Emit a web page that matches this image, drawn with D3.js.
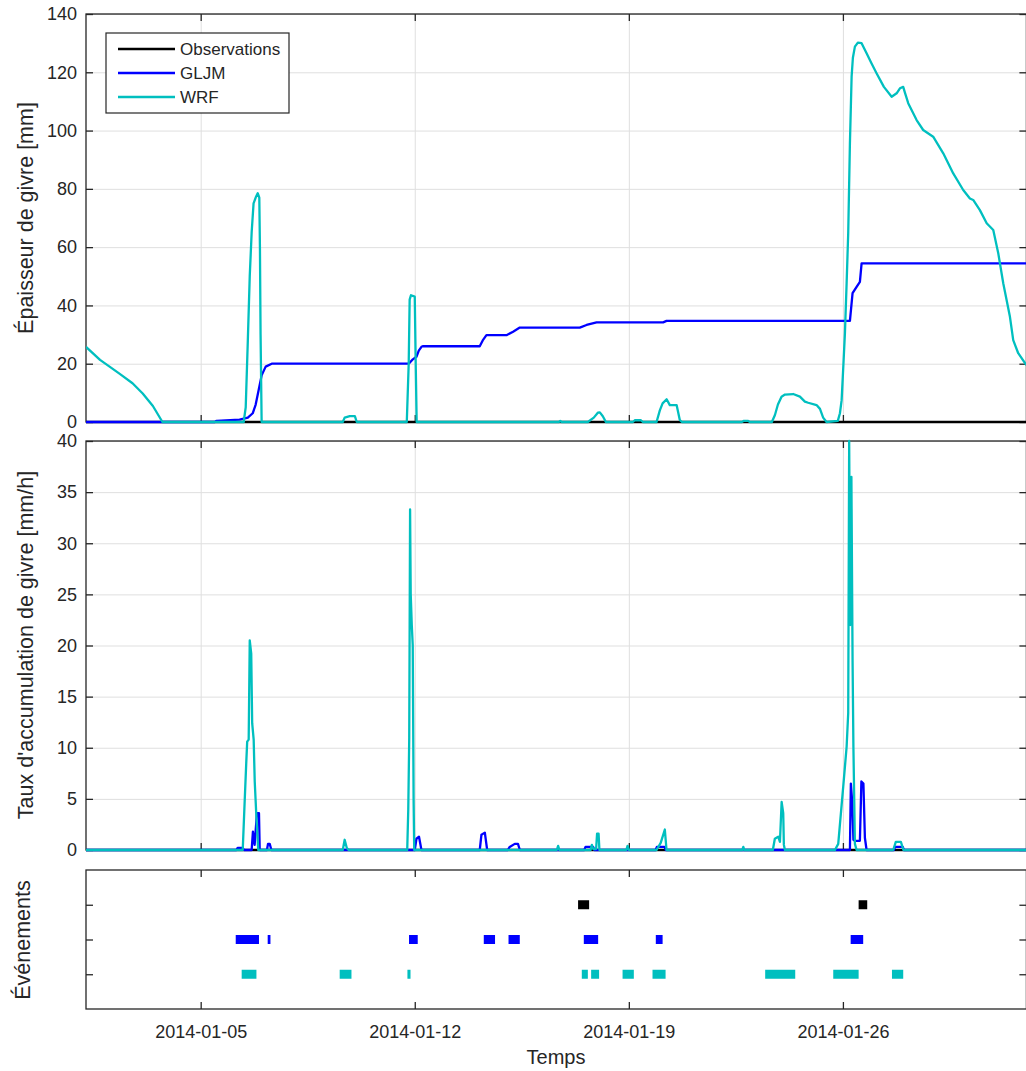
<!DOCTYPE html>
<html>
<head>
<meta charset="utf-8">
<script src="https://cdn.jsdelivr.net/npm/d3@7"></script>
<style>
  body { margin: 0; background: #fff; }
  svg { display: block; }
  text { font-family: "Liberation Sans", Arial, Helvetica, sans-serif; fill: #262626; }
</style>
</head>
<body>
<svg id="chart" width="1026" height="1071"></svg>
<script>
// ---- Time axis ----
const timeDomain = ["2014-01-01 06:00", "2014-02-01 00:00"];
const dateTicks = ["2014-01-05 00:00", "2014-01-12 00:00", "2014-01-19 00:00", "2014-01-26 00:00"];

// ---- Rime thickness [mm] ----
const obsThickness = [["2014-01-01 06:00", 0], ["2014-02-01 00:00", 0]];
const gljmThickness = [
  ["2014-01-01 06:00", 0], ["2014-01-05 11:00", 0], ["2014-01-05 12:30", 0.4],
  ["2014-01-06 06:30", 0.8], ["2014-01-06 13:00", 1.5], ["2014-01-06 16:50", 3],
  ["2014-01-06 19:10", 6], ["2014-01-06 21:30", 11], ["2014-01-06 23:50", 16],
  ["2014-01-07 03:00", 19], ["2014-01-07 07:45", 20], ["2014-01-11 18:30", 20],
  ["2014-01-11 20:00", 20.3], ["2014-01-11 22:30", 21.5], ["2014-01-12 01:20", 22.4],
  ["2014-01-12 03:10", 24.5], ["2014-01-12 05:15", 25.8], ["2014-01-12 06:15", 26],
  ["2014-01-14 03:00", 26], ["2014-01-14 05:20", 28], ["2014-01-14 08:15", 29.8],
  ["2014-01-15 00:00", 29.8], ["2014-01-15 05:10", 31], ["2014-01-15 10:25", 32.4],
  ["2014-01-17 09:30", 32.4], ["2014-01-17 14:50", 33.3], ["2014-01-17 22:40", 34.2],
  ["2014-01-20 02:55", 34.2], ["2014-01-20 05:35", 34.7], ["2014-01-26 05:30", 34.7],
  ["2014-01-26 06:40", 40], ["2014-01-26 07:35", 44.2], ["2014-01-26 10:45", 46.4],
  ["2014-01-26 13:20", 48.1], ["2014-01-26 14:40", 54.4], ["2014-02-01 00:00", 54.4]
];
const wrfThickness = [
  ["2014-01-01 06:00", 25.8], ["2014-01-01 17:00", 21.3], ["2014-01-02 00:30", 19.0],
  ["2014-01-02 08:30", 16.5], ["2014-01-02 18:30", 13.3], ["2014-01-03 02:30", 9.8],
  ["2014-01-03 10:30", 5.5], ["2014-01-03 18:00", 0], ["2014-01-06 09:45", 0],
  ["2014-01-06 11:20", 5], ["2014-01-06 13:00", 28], ["2014-01-06 14:30", 50],
  ["2014-01-06 16:00", 65], ["2014-01-06 17:30", 75], ["2014-01-06 19:10", 77],
  ["2014-01-06 20:45", 78.5], ["2014-01-06 22:00", 77], ["2014-01-06 22:30", 60],
  ["2014-01-06 23:00", 30], ["2014-01-06 23:50", 0], ["2014-01-09 15:30", 0],
  ["2014-01-09 17:00", 1.5], ["2014-01-09 21:00", 2], ["2014-01-10 01:00", 2],
  ["2014-01-10 02:30", 0], ["2014-01-11 17:45", 0], ["2014-01-11 19:15", 20],
  ["2014-01-11 20:00", 42], ["2014-01-11 21:00", 43.5], ["2014-01-12 00:00", 43],
  ["2014-01-12 00:45", 20], ["2014-01-12 01:30", 0], ["2014-01-16 17:00", 0],
  ["2014-01-16 18:10", 0.4], ["2014-01-16 19:20", 0], ["2014-01-17 15:50", 0],
  ["2014-01-17 20:30", 1.5], ["2014-01-17 23:40", 3.2], ["2014-01-18 01:15", 3.3],
  ["2014-01-18 03:35", 2], ["2014-01-18 06:00", 0], ["2014-01-19 03:10", 0],
  ["2014-01-19 04:40", 0.6], ["2014-01-19 09:30", 0.6], ["2014-01-19 11:00", 0],
  ["2014-01-19 21:45", 0], ["2014-01-20 00:20", 4], ["2014-01-20 02:30", 6.4],
  ["2014-01-20 05:40", 7.8], ["2014-01-20 08:10", 5.8], ["2014-01-20 13:30", 5.8],
  ["2014-01-20 16:00", 0.7], ["2014-01-20 17:40", 0], ["2014-01-22 16:40", 0],
  ["2014-01-22 18:20", 0.4], ["2014-01-22 21:20", 0.4], ["2014-01-22 23:00", 0],
  ["2014-01-23 16:15", 0], ["2014-01-23 18:40", 2.4], ["2014-01-23 21:00", 6],
  ["2014-01-23 23:50", 8.7], ["2014-01-24 02:30", 9.4], ["2014-01-24 09:00", 9.6],
  ["2014-01-24 14:15", 8.7], ["2014-01-24 18:10", 7], ["2014-01-24 20:45", 6.6],
  ["2014-01-25 03:20", 5.8], ["2014-01-25 06:00", 4.5], ["2014-01-25 08:30", 1.5],
  ["2014-01-25 11:10", 0], ["2014-01-25 20:00", 0.4], ["2014-01-25 21:40", 3],
  ["2014-01-25 23:00", 7.5], ["2014-01-26 00:25", 20], ["2014-01-26 01:35", 30.5],
  ["2014-01-26 02:55", 47.6], ["2014-01-26 04:10", 64.8], ["2014-01-26 05:30", 95.6],
  ["2014-01-26 06:50", 118.5], ["2014-01-26 07:50", 125], ["2014-01-26 09:25", 128.8],
  ["2014-01-26 11:45", 130.2], ["2014-01-26 14:40", 130], ["2014-01-26 18:35", 126.5],
  ["2014-01-26 22:30", 123], ["2014-01-27 02:30", 119.6], ["2014-01-27 08:10", 115],
  ["2014-01-27 14:15", 111.6], ["2014-01-27 18:10", 112.8], ["2014-01-27 20:45", 114.5],
  ["2014-01-27 23:20", 115], ["2014-01-28 00:40", 113], ["2014-01-28 03:15", 109.4],
  ["2014-01-28 09:50", 103.6], ["2014-01-28 15:00", 100.2], ["2014-01-28 22:50", 97.9],
  ["2014-01-29 06:45", 92.2], ["2014-01-29 14:35", 85.3], ["2014-01-29 22:25", 79.6],
  ["2014-01-30 03:40", 76.7], ["2014-01-30 06:15", 76.2], ["2014-01-30 11:30", 72.7],
  ["2014-01-30 16:50", 68.2], ["2014-01-30 22:00", 65.9], ["2014-01-31 01:55", 57.9],
  ["2014-01-31 05:50", 47.6], ["2014-01-31 11:05", 36.1], ["2014-01-31 13:40", 28.1],
  ["2014-01-31 17:35", 23.6], ["2014-02-01 00:00", 19.5]
];

// ---- Rime accretion rate [mm/h] ----
const obsRate = [["2014-01-01 06:00", 0], ["2014-02-01 00:00", 0]];
const gljmRate = [
  ["2014-01-01 06:00", 0], ["2014-01-06 04:00", 0], ["2014-01-06 05:00", 0.2],
  ["2014-01-06 09:00", 0.2], ["2014-01-06 10:00", 0], ["2014-01-06 16:00", 0],
  ["2014-01-06 17:00", 1.8], ["2014-01-06 18:20", 0.5], ["2014-01-06 20:10", 3.6],
  ["2014-01-06 21:45", 3.6], ["2014-01-06 22:20", 0], ["2014-01-07 04:00", 0],
  ["2014-01-07 04:50", 0.6], ["2014-01-07 06:10", 0.6], ["2014-01-07 07:30", 0],
  ["2014-01-12 00:00", 0], ["2014-01-12 01:20", 1.1], ["2014-01-12 03:20", 1.3],
  ["2014-01-12 05:15", 0], ["2014-01-14 03:00", 0], ["2014-01-14 04:20", 1.5],
  ["2014-01-14 07:00", 1.7], ["2014-01-14 08:50", 0], ["2014-01-15 01:00", 0],
  ["2014-01-15 02:30", 0.3], ["2014-01-15 06:30", 0.6], ["2014-01-15 09:00", 0.6],
  ["2014-01-15 10:30", 0], ["2014-01-17 13:00", 0], ["2014-01-17 14:00", 0.3],
  ["2014-01-17 20:00", 0.3], ["2014-01-17 21:00", 0], ["2014-01-19 21:00", 0],
  ["2014-01-19 22:00", 0.3], ["2014-01-20 04:00", 0.3], ["2014-01-20 05:00", 0],
  ["2014-01-26 05:30", 0], ["2014-01-26 06:15", 6.5], ["2014-01-26 07:25", 4.5],
  ["2014-01-26 08:15", 1.0], ["2014-01-26 09:25", 0.9], ["2014-01-26 13:20", 0.9],
  ["2014-01-26 14:30", 6.7], ["2014-01-26 16:05", 6.5], ["2014-01-26 17:15", 1.2],
  ["2014-01-26 18:35", 0], ["2014-01-27 16:00", 0], ["2014-01-27 17:00", 0.3],
  ["2014-01-27 23:00", 0.3], ["2014-01-27 23:50", 0], ["2014-02-01 00:00", 0]
];
const wrfRate = [
  ["2014-01-01 06:00", 0], ["2014-01-06 09:00", 0], ["2014-01-06 10:30", 4.7],
  ["2014-01-06 11:45", 8.5], ["2014-01-06 12:30", 10.6], ["2014-01-06 13:40", 10.8],
  ["2014-01-06 14:30", 20.5], ["2014-01-06 15:40", 19.2], ["2014-01-06 16:25", 12.4],
  ["2014-01-06 17:35", 10.8], ["2014-01-06 18:25", 6.7], ["2014-01-06 19:35", 3.6],
  ["2014-01-06 21:10", 0], ["2014-01-09 15:30", 0], ["2014-01-09 17:00", 1.0],
  ["2014-01-09 18:40", 0.2], ["2014-01-09 20:10", 0], ["2014-01-11 18:05", 0],
  ["2014-01-11 18:55", 4], ["2014-01-11 19:40", 11], ["2014-01-11 20:20", 33.3],
  ["2014-01-11 20:50", 25], ["2014-01-11 21:40", 22], ["2014-01-11 22:25", 20],
  ["2014-01-11 23:05", 5], ["2014-01-11 23:35", 0], ["2014-01-16 15:30", 0],
  ["2014-01-16 16:30", 0.4], ["2014-01-16 17:30", 0], ["2014-01-17 18:00", 0],
  ["2014-01-17 19:00", 0.5], ["2014-01-17 20:00", 0.1], ["2014-01-17 22:20", 0.1],
  ["2014-01-17 23:05", 1.6], ["2014-01-18 00:15", 1.6], ["2014-01-18 00:55", 0],
  ["2014-01-18 22:00", 0], ["2014-01-18 23:00", 0.4], ["2014-01-19 00:00", 0],
  ["2014-01-19 21:45", 0], ["2014-01-20 01:00", 0.7], ["2014-01-20 04:15", 2.0],
  ["2014-01-20 05:35", 0], ["2014-01-22 17:00", 0], ["2014-01-22 17:50", 0.3],
  ["2014-01-22 18:40", 0], ["2014-01-23 17:00", 0], ["2014-01-23 18:35", 1.1],
  ["2014-01-23 21:15", 1.3], ["2014-01-23 22:35", 0.8], ["2014-01-23 23:55", 4.7],
  ["2014-01-24 01:10", 3.6], ["2014-01-24 01:40", 0.5], ["2014-01-24 02:30", 0],
  ["2014-01-25 17:45", 0], ["2014-01-25 20:20", 0.6], ["2014-01-26 00:15", 6.2],
  ["2014-01-26 02:55", 10.1], ["2014-01-26 04:10", 13.4], ["2014-01-26 04:55", 40],
  ["2014-01-26 05:45", 22], ["2014-01-26 06:40", 36.5], ["2014-01-26 07:35", 18.5],
  ["2014-01-26 08:15", 10], ["2014-01-26 09:25", 0.6], ["2014-01-26 10:45", 0],
  ["2014-01-27 15:30", 0], ["2014-01-27 17:30", 0.8], ["2014-01-27 21:30", 0.8],
  ["2014-01-27 23:30", 0], ["2014-02-01 00:00", 0]
];

// ---- Icing events (start, end) ----
const obsEvents = [
  ["2014-01-17 08:10", "2014-01-17 16:50"], ["2014-01-26 12:20", "2014-01-26 19:05"]
];
const gljmEvents = [
  ["2014-01-06 03:30", "2014-01-06 21:45"], ["2014-01-07 04:35", "2014-01-07 06:45"],
  ["2014-01-11 19:30", "2014-01-12 02:20"], ["2014-01-14 06:10", "2014-01-14 15:00"],
  ["2014-01-15 01:35", "2014-01-15 10:25"], ["2014-01-17 12:40", "2014-01-17 23:55"],
  ["2014-01-19 21:10", "2014-01-20 02:30"], ["2014-01-26 06:05", "2014-01-26 15:55"]
];
const wrfEvents = [
  ["2014-01-06 08:10", "2014-01-06 19:45"], ["2014-01-09 13:05", "2014-01-09 22:20"],
  ["2014-01-11 18:15", "2014-01-11 20:40"], ["2014-01-17 11:05", "2014-01-17 15:50"],
  ["2014-01-17 18:25", "2014-01-18 00:40"], ["2014-01-18 19:05", "2014-01-19 03:55"],
  ["2014-01-19 18:35", "2014-01-20 04:50"], ["2014-01-23 11:00", "2014-01-24 10:35"],
  ["2014-01-25 16:25", "2014-01-26 12:20"], ["2014-01-27 14:30", "2014-01-27 23:20"]
];

const seriesNames = ["Observations", "GLJM", "WRF"];
const seriesColors = ["#000000", "#0000ff", "#00bfbf"];
const thicknessTicks = [0, 20, 40, 60, 80, 100, 120, 140];
const rateTicks = [0, 5, 10, 15, 20, 25, 30, 35, 40];
const eventRows = [1, 2, 3];

// ---- Layout ----
const parse = d3.timeParse("%Y-%m-%d %H:%M");
const svg = d3.select("#chart");
const defs = svg.append("defs");
const left = 86, right = 1026.4;
const axisColor = "#262626", gridColor = "#dfdfdf";
const tickLen = 7;

const x = d3.scaleTime().domain(timeDomain.map(parse)).range([left, right]);
const xTickDates = dateTicks.map(parse);

// Builds one axes box: grid, frame, inward ticks on all four sides, then a
// plotting layer on top so that lines lying on zero stay visible over the frame.
function drawPanel(top, bottom, yDomain, yTicks, opts) {
  const y = d3.scaleLinear().domain(yDomain).range([bottom, top]);
  const g = svg.append("g");
  const id = "clip" + Math.round(top);
  defs.append("clipPath").attr("id", id)
    .append("rect").attr("x", left).attr("y", top - 3)
    .attr("width", right - left).attr("height", bottom - top + 6);

  if (opts.grid) {
    const gx = g.append("g").attr("transform", `translate(0,${bottom})`)
      .call(d3.axisBottom(x).tickValues(xTickDates).tickSize(-(bottom - top)).tickFormat(""));
    gx.select(".domain").remove();
    gx.selectAll("line").attr("stroke", gridColor).attr("stroke-width", 1);
    const gy = g.append("g").attr("transform", `translate(${left},0)`)
      .call(d3.axisLeft(y).tickValues(yTicks).tickSize(-(right - left)).tickFormat(""));
    gy.select(".domain").remove();
    gy.selectAll("line").attr("stroke", gridColor).attr("stroke-width", 1);
  }

  const ax = [
    g.append("g").attr("transform", `translate(${left},0)`)
      .call(d3.axisLeft(y).tickValues(yTicks).tickSize(-tickLen).tickPadding(9)
        .tickFormat(opts.yLabels ? d3.format("d") : "")),
    g.append("g").attr("transform", `translate(${right},0)`)
      .call(d3.axisRight(y).tickValues(yTicks).tickSize(-tickLen).tickFormat("")),
    g.append("g").attr("transform", `translate(0,${top})`)
      .call(d3.axisTop(x).tickValues(xTickDates).tickSize(-tickLen).tickFormat("")),
    g.append("g").attr("transform", `translate(0,${bottom})`)
      .call(d3.axisBottom(x).tickValues(xTickDates).tickSize(-tickLen).tickPadding(16)
        .tickFormat(opts.xLabels ? d3.timeFormat("%Y-%m-%d") : ""))
  ];
  ax.forEach(a => {
    a.select(".domain").remove();
    a.selectAll("line").attr("stroke", axisColor).attr("stroke-width", 1.3);
    a.selectAll("text").attr("fill", axisColor).style("font-size", "18px")
      .style("font-family", '"Liberation Sans", Arial, sans-serif');
  });
  g.append("rect").attr("x", left).attr("y", top)
    .attr("width", right - left).attr("height", bottom - top)
    .attr("fill", "none").attr("stroke", axisColor).attr("stroke-width", 1.3);

  const plot = g.append("g").attr("clip-path", `url(#${id})`);
  return { y, g, plot, top, bottom };
}

function yLabel(text, cx, cy) {
  svg.append("text").attr("transform", `translate(${cx},${cy}) rotate(-90)`)
    .attr("text-anchor", "middle").attr("dy", "0.35em")
    .style("font-size", "21.5px").text(text);
}

function drawSeries(p, seriesList) {
  const line = d3.line().x(d => x(parse(d[0]))).y(d => p.y(d[1]));
  seriesList.forEach((s, i) => {
    p.plot.append("path").datum(s).attr("d", line)
      .attr("fill", "none").attr("stroke", seriesColors[i])
      .attr("stroke-width", 2.3).attr("stroke-linejoin", "round");
  });
}

// Panel 1: rime thickness
const p1 = drawPanel(14, 422, [0, 140], thicknessTicks, { grid: true, yLabels: true });
drawSeries(p1, [obsThickness, gljmThickness, wrfThickness]);
yLabel("Épaisseur de givre [mm]", 25, 218);

// Legend
const leg = svg.append("g");
leg.append("rect").attr("x", 106).attr("y", 33).attr("width", 183).attr("height", 80)
  .attr("fill", "#fff").attr("stroke", axisColor).attr("stroke-width", 1.2);
seriesNames.forEach((name, i) => {
  const cy = 49 + i * 24;
  leg.append("line").attr("x1", 118).attr("x2", 175).attr("y1", cy).attr("y2", cy)
    .attr("stroke", seriesColors[i]).attr("stroke-width", 2.3);
  leg.append("text").attr("x", 180).attr("y", cy).attr("dy", "0.35em")
    .style("font-size", "17px").text(name);
});

// Panel 2: accretion rate
const p2 = drawPanel(441, 850, [0, 40], rateTicks, { grid: true, yLabels: true });
drawSeries(p2, [obsRate, gljmRate, wrfRate]);
yLabel("Taux d'accumulation de givre [mm/h]", 25, 645);

// Panel 3: icing events
const p3 = drawPanel(870, 1009, [0, 4], eventRows, { grid: false, xLabels: true });
[wrfEvents, gljmEvents, obsEvents].forEach((evs, k) => {
  const row = k + 1;             // WRF = 1, GLJM = 2, Observations = 3
  const color = seriesColors[2 - k];
  p3.plot.selectAll(null).data(evs).enter().append("rect")
    .attr("x", d => x(parse(d[0])))
    .attr("width", d => x(parse(d[1])) - x(parse(d[0])))
    .attr("y", p3.y(row) - 4.5).attr("height", 9)
    .attr("fill", color);
});
yLabel("Événements", 22, 940);

svg.append("text").attr("x", 556).attr("y", 1064).attr("text-anchor", "middle")
  .style("font-size", "20px").text("Temps");
</script>
</body>
</html>
